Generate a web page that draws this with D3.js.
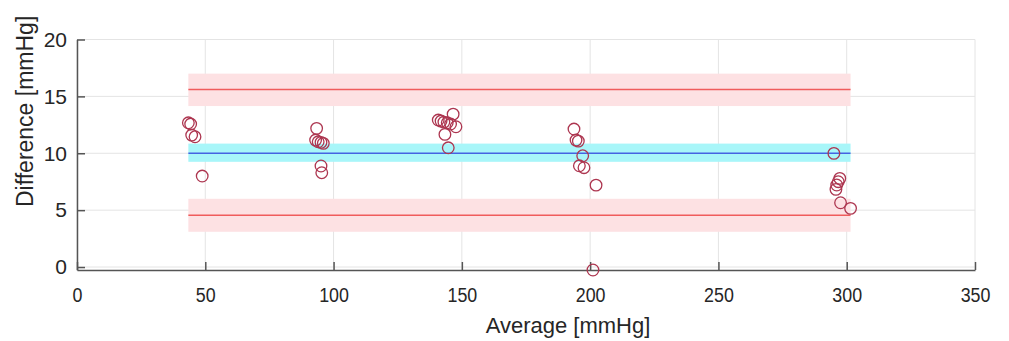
<!DOCTYPE html>
<html>
<head>
<meta charset="utf-8">
<script src="https://cdn.jsdelivr.net/npm/d3@7"></script>
<style>
  body { margin: 0; background: #fff; }
  svg { display: block; font-family: "Liberation Sans", Arial, sans-serif; }
</style>
</head>
<body>
<div id="chart"></div>
<script>
// mean of the two readings (x) and their difference (y)
const averages = [
    43.4, 44.3, 44.7, 46.0, 48.8,
    93.4, 93.0, 94.0, 95.1, 96.0, 95.1, 95.4,
    146.6, 140.8, 141.9, 143.0, 144.3, 145.6, 147.7, 143.4, 144.7,
    193.7, 194.5, 195.4, 197.1, 195.8, 197.6, 202.3, 201.1,
    295.0, 297.3, 296.7, 296.1, 295.8, 297.6, 301.5
];
const differences = [
    12.68, 12.57, 11.6, 11.45, 8.0,
    12.19, 11.16, 11.01, 10.96, 10.87, 8.88, 8.29,
    13.44, 12.92, 12.83, 12.74, 12.68, 12.57, 12.33, 11.66, 10.48,
    12.13, 11.16, 11.07, 9.78, 8.9, 8.73, 7.2, -0.26,
    9.99, 7.79, 7.5, 7.21, 6.83, 5.65, 5.16
];

// bias and limits of agreement, each with its confidence band
const limitNames = ["upper", "bias", "lower"];
const limitValues = [15.6, 10.0, 4.55];
const limitBandLow = [14.15, 9.25, 3.1];
const limitBandHigh = [17.0, 10.85, 6.0];

const xTicks = [0, 50, 100, 150, 200, 250, 300, 350];
const yTicks = [0, 5, 10, 15, 20];

const width = 1009, height = 341;
const margin = { left: 77, right: 34, top: 39.5, bottom: 71 };

const colors = {
    band: { upper: "#fde1e3", bias: "#a8f6f9", lower: "#fde1e3" },
    line: { upper: "#f05c5c", bias: "#4563e2", lower: "#f05c5c" },
    marker: "#ad3650",
    grid: "#e4e4e4",
    axis: "#555555",
    text: "#262626"
};

const svg = d3.select("#chart").append("svg")
    .attr("width", width)
    .attr("height", height);

const x = d3.scaleLinear().domain([0, 350]).range([margin.left, width - margin.right]);
const y = d3.scaleLinear().domain([-0.26, 20]).range([height - margin.bottom, margin.top]);

// grid
svg.append("g").selectAll("line").data(xTicks).join("line")
    .attr("x1", d => x(d)).attr("x2", d => x(d))
    .attr("y1", y.range()[0]).attr("y2", y.range()[1])
    .attr("stroke", colors.grid);
svg.append("g").selectAll("line").data(yTicks).join("line")
    .attr("x1", x.range()[0]).attr("x2", x.range()[1])
    .attr("y1", d => y(d)).attr("y2", d => y(d))
    .attr("stroke", colors.grid);

// bands + lines over the measured range
const [xMin, xMax] = d3.extent(averages);
const limits = limitNames.map((name, i) => ({
    name, value: limitValues[i], lo: limitBandLow[i], hi: limitBandHigh[i]
}));

svg.append("g").selectAll("rect").data(limits).join("rect")
    .attr("x", x(xMin)).attr("width", x(xMax) - x(xMin))
    .attr("y", d => y(d.hi)).attr("height", d => y(d.lo) - y(d.hi))
    .attr("fill", d => colors.band[d.name]);

svg.append("g").selectAll("line").data(limits).join("line")
    .attr("x1", x(xMin)).attr("x2", x(xMax))
    .attr("y1", d => y(d.value)).attr("y2", d => y(d.value))
    .attr("stroke", d => colors.line[d.name])
    .attr("stroke-width", 1.5);

// axes (ticks point inward)
const xAxis = svg.append("g")
    .attr("transform", `translate(0,${y.range()[0]})`)
    .call(d3.axisBottom(x).tickValues(xTicks).tickSizeInner(-8).tickSizeOuter(0).tickPadding(22));
const yAxis = svg.append("g")
    .attr("transform", `translate(${x.range()[0]},0)`)
    .call(d3.axisLeft(y).tickValues(yTicks).tickSizeInner(-8).tickSizeOuter(0).tickPadding(10));

[xAxis, yAxis].forEach(a => {
    a.select(".domain").attr("stroke", colors.axis).attr("stroke-width", 1.5);
    a.selectAll(".tick line").attr("stroke", colors.axis).attr("stroke-width", 1.5);
    a.selectAll("text").attr("fill", colors.text).style("font-size", "21px");
});
// MATLAB export squeezes the x tick labels a little
xAxis.selectAll("text").attr("dy", "0.5em").attr("transform", "scale(0.85,1)");

// points
svg.append("g").selectAll("circle").data(averages).join("circle")
    .attr("cx", d => x(d))
    .attr("cy", (d, i) => y(differences[i]))
    .attr("r", 5.8)
    .attr("fill", "none")
    .attr("stroke", colors.marker)
    .attr("stroke-width", 1.3);

// titles
svg.append("text")
    .attr("x", 568).attr("y", 333)
    .attr("text-anchor", "middle")
    .attr("fill", colors.text)
    .style("font-size", "22px")
    .text("Average [mmHg]");

svg.append("text")
    .attr("transform", "translate(33,207) rotate(-90)")
    .attr("text-anchor", "start")
    .attr("fill", colors.text)
    .style("font-size", "23px")
    .text("Difference  [mmHg]");
</script>
</body>
</html>
